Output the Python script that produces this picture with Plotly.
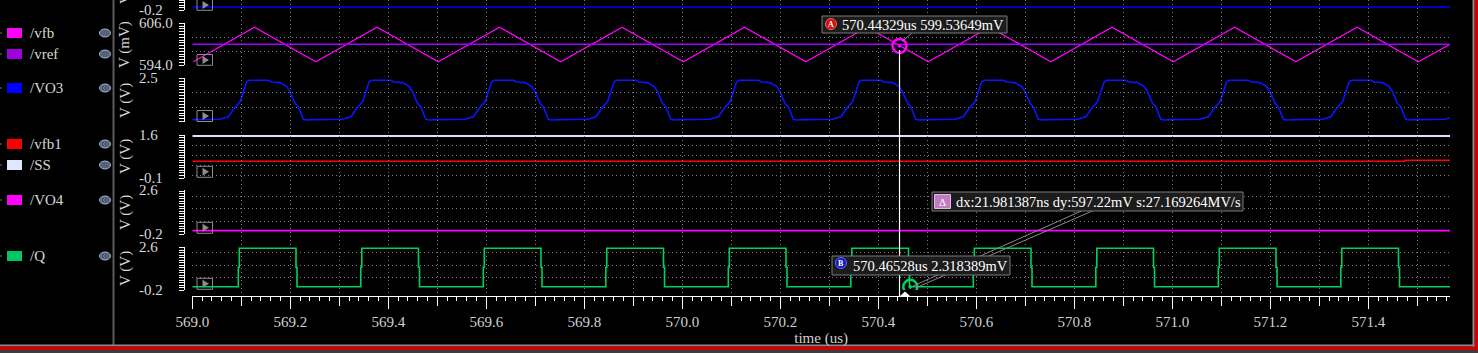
import plotly.graph_objects as go

W, H = 1478, 353
PH = 296  # plot-area height in px (bottom margin 57)
FONT = "Liberation Serif, DejaVu Serif, serif"

# ---------------- data ----------------
# time axis (us)
t_start, t_end = 569.0, 571.5667
x_tick_vals = [569.0, 569.2, 569.4, 569.6, 569.8, 570.0, 570.2, 570.4, 570.6, 570.8,
               571.0, 571.2, 571.4]
x_tick_text = ["569.0", "569.2", "569.4", "569.6", "569.8", "570.0", "570.2", "570.4",
               "570.6", "570.8", "571.0", "571.2", "571.4"]

# /vfb (mV) – triangle turning points, /vref (mV)
vfb_t = [569.002, 569.127, 569.252, 569.377, 569.502, 569.627, 569.752, 569.877, 570.002,
         570.127, 570.252, 570.377, 570.502, 570.627, 570.752, 570.877, 571.002, 571.127,
         571.252, 571.377, 571.502, 571.567]
vfb_mv = [595.0, 604.9, 595.0, 604.9, 595.0, 604.9, 595.0, 604.9, 595.0,
          604.9, 595.0, 604.9, 595.0, 604.9, 595.0, 604.9, 595.0, 604.9,
          595.0, 604.9, 595.0, 600.0]
vref_t = [569.0, 571.567]
vref_mv = [600.0, 600.0]

# switching cycles (start times, us)
cycle_start = [569.0, 569.25, 569.5, 569.75, 570.0, 570.25, 570.5, 570.75, 571.0, 571.25, 571.5]
# /VO3 one-cycle shape (offset us, volts)
vo3_dt = [0.0, 0.0565, 0.0735, 0.0871, 0.0973, 0.1041, 0.1110, 0.1163, 0.1551, 0.1620,
          0.1790, 0.1927, 0.1994, 0.2096, 0.2163, 0.2265, 0.2335]
vo3_v = [-0.07, -0.05, 0.11, 0.70, 1.04, 1.67, 2.29, 2.38, 2.38, 2.27,
         2.23, 1.98, 1.67, 0.95, 0.73, -0.05, -0.09]
# /Q one-cycle shape (offset us, volts)
q_dt = [0.0, 0.0939, 0.0939, 0.0959, 0.0959, 0.2116, 0.2116, 0.2137, 0.2137]
q_v = [0.01, 0.01, 1.27, 1.27, 2.50, 2.50, 1.27, 1.27, 0.01]

# /vfb1, /SS, /VO4 (V)
vfb1_t = [569.0, 571.475, 571.475, 571.567]
vfb1_v = [0.56, 0.56, 0.60, 0.60]
ss_t = [569.0, 571.567]
ss_v = [1.56, 1.56]
vo4_t = [569.0, 571.567]
vo4_v = [0.02, 0.02]
top_t = [569.0, 571.567]
top_v = [0.01, 0.01]

# markers
mA_t, mA_v = 570.44329, 599.53649   # mV on /vfb
mB_t, mB_v = 570.46528, 2.318389    # mV on /Q
delta_text = "dx:21.981387ns dy:597.22mV s:27.169264MV/s"

# ---------------- build periodic series from the read cycles ----------------
vo3_t, vo3_y, q_t, q_y = [], [], [], []
for c in cycle_start:
    vo3_t += [round(c + d, 5) for d in vo3_dt]
    vo3_y += vo3_v
    q_t += [round(c + d, 5) for d in q_dt]
    q_y += q_v


def X(px):
    return px / W


def Y(py):
    return 1 - py / PH


fig = go.Figure()
line = lambda c, w=1.5: dict(color=c, width=w)
common = dict(mode="lines", hoverinfo="skip", showlegend=False, xaxis="x")
# helper (empty) trace first so the full-height grid subplot exists underneath
fig.add_trace(go.Scatter(x=[], y=[], yaxis="y7", xaxis="x2", mode="lines", showlegend=False, hoverinfo="skip"))
fig.add_trace(go.Scatter(x=top_t, y=top_v, yaxis="y", line=line("#0000ff"), **common))
fig.add_trace(go.Scatter(x=vfb_t, y=vfb_mv, yaxis="y2", line=line("#ff00ff", 1.3), name="/vfb", **common))
fig.add_trace(go.Scatter(x=vref_t, y=vref_mv, yaxis="y2", line=line("#a000ff"), name="/vref", **common))
fig.add_trace(go.Scatter(x=vo3_t, y=vo3_y, yaxis="y3", line=line("#0a14ff", 1.6), name="/VO3", **common))
fig.add_trace(go.Scatter(x=vfb1_t, y=vfb1_v, yaxis="y4", line=line("#ff0000"), name="/vfb1", **common))
fig.add_trace(go.Scatter(x=ss_t, y=ss_v, yaxis="y4", line=line("#dde4ff", 1.8), name="/SS", **common))
fig.add_trace(go.Scatter(x=vo4_t, y=vo4_v, yaxis="y5", line=line("#ff00ff", 1.8), name="/VO4", **common))
fig.add_trace(go.Scatter(x=q_t, y=q_y, yaxis="y6", line=line("#00d060", 1.6), name="/Q", **common))
# markers A and B
fig.add_trace(go.Scatter(x=[mA_t], y=[mA_v], yaxis="y2", xaxis="x", mode="markers", showlegend=False,
                         hoverinfo="skip", marker=dict(symbol="circle-open-dot", size=14, color="#ff00ff",
                                                       line=dict(width=2.5, color="#ff00ff"))))
fig.add_trace(go.Scatter(x=[mB_t], y=[mB_v / 1000], yaxis="y6", xaxis="x", mode="markers", showlegend=False,
                         hoverinfo="skip", marker=dict(symbol="circle-open-dot", size=14, color="#00d060",
                                                       line=dict(width=2.5, color="#00d060"))))

GRID = "#7c7c7c"
DOT = "1px,3px"
xdom = [X(192.3), X(1450)]

# panels: axis id, top px, bottom px, range, grid values, ruler step
panels = [
    ("yaxis", 0.0, 10.3, [-0.2, 0.465], [-0.2], 0.16),
    ("yaxis2", 23.3, 65.3, [594.0, 606.0], [594.0, 598.0, 602.0, 606.0], 0.8),
    ("yaxis3", 78.3, 121.7, [-0.2, 2.5], [-0.2, 0.7, 1.6, 2.5], 0.18),
    ("yaxis4", 135.0, 178.0, [-0.1, 1.6], [0.0, 0.4, 0.8, 1.2], 0.1),
    ("yaxis5", 190.0, 234.0, [-0.2, 2.6], [-0.2, 0.6, 1.4, 2.2], 0.16),
    ("yaxis6", 246.7, 290.0, [-0.2, 2.6], [-0.2, 0.6, 1.4, 2.2], 0.16),
]
layout_axes = {}
for name, ptop, pbot, rng, grid, step in panels:
    layout_axes[name] = dict(
        domain=[Y(pbot), Y(ptop)], range=rng, anchor="free", position=X(184), side="left",
        showline=True, linecolor="#ffffff", linewidth=1, automargin=False,
        tickmode="array", tickvals=grid, ticks="outside", ticklen=5, tickcolor="#ffffff",
        showticklabels=False, showgrid=True, gridcolor=GRID, griddash=DOT, gridwidth=1,
        zeroline=False, fixedrange=True,
        minor=dict(tickmode="linear", tick0=rng[0], dtick=step, ticks="outside", ticklen=5,
                   tickcolor="#ffffff", showgrid=False),
    )
layout_axes["yaxis7"] = dict(domain=[0, 1], range=[0, 1], anchor="free", position=X(184),
                             visible=False, showgrid=False, zeroline=False, automargin=False)

fig.update_layout(
    width=W, height=H, autosize=False,
    margin=dict(l=0, r=0, t=0, b=57, pad=0, autoexpand=False),
    paper_bgcolor="#000000", plot_bgcolor="rgba(0,0,0,0)",
    hovermode=False, showlegend=False,
    font=dict(family=FONT, size=15, color="#d8d8d8"),
    xaxis=dict(
        domain=xdom, range=[t_start, t_end], anchor="free", position=0, automargin=False,
        tickmode="array", tickvals=x_tick_vals, ticktext=x_tick_text,
        ticks="outside", ticklen=12, tickcolor="#ffffff", tickwidth=1,
        showline=True, linecolor="#ffffff", linewidth=1,
        showgrid=False, zeroline=False,
        tickfont=dict(family=FONT, size=15, color="#d0d0d0"),
        title=dict(text="time (us)", font=dict(family=FONT, size=15, color="#d0d0d0"), standoff=3),
        minor=dict(tickmode="linear", tick0=569.0, dtick=0.02, ticks="outside", ticklen=4,
                   tickcolor="#ffffff", showgrid=False),
        fixedrange=True,
    ),
    xaxis2=dict(
        domain=xdom, range=[t_start, t_end], anchor="free", position=0, overlaying="x",
        automargin=False, tickmode="linear", tick0=569.0, dtick=0.1, ticks="outside", ticklen=9,
        tickcolor="#ffffff", showticklabels=False, showline=False, zeroline=False,
        showgrid=True, gridcolor=GRID, griddash=DOT, gridwidth=1, fixedrange=True,
    ),
    **layout_axes,
)

shapes = []
annotations = []


def rect(x0, y0, x1, y1, fill=None, lc=None, lw=1, layer="above"):
    shapes.append(dict(type="rect", xref="paper", yref="paper", x0=X(x0), x1=X(x1), y0=Y(y1), y1=Y(y0),
                       fillcolor=fill if fill else "rgba(0,0,0,0)",
                       line=dict(color=lc if lc else "rgba(0,0,0,0)", width=lw if lc else 0), layer=layer))


def seg(x0, y0, x1, y1, c, w=1):
    shapes.append(dict(type="line", xref="paper", yref="paper", x0=X(x0), x1=X(x1), y0=Y(y0), y1=Y(y1),
                       line=dict(color=c, width=w), layer="above"))


def txt(x, y, s, size=15, color="#d8d8d8", xanchor="left", angle=0, yref="paper", bold=False):
    annotations.append(dict(x=X(x), y=(Y(y) if yref == "paper" else y), xref="paper", yref=yref,
                            text=("<b>%s</b>" % s if bold else s), showarrow=False, xanchor=xanchor,
                            yanchor="middle", textangle=angle,
                            font=dict(family=FONT, size=size, color=color)))


# ---- left legend ----
legend_rows = [("/vfb", "#ff00ff", 33), ("/vref", "#a000e0", 54), ("/VO3", "#0000ff", 88),
               ("/vfb1", "#ff0000", 144), ("/SS", "#dfe6ff", 165), ("/VO4", "#ff00ff", 200),
               ("/Q", "#00c864", 256)]
for label, col, cy in legend_rows:
    rect(7, cy - 5, 22, cy + 5, fill=col)
    txt(28, cy, label, size=15)
    shapes.append(dict(type="circle", xref="paper", yref="paper", x0=X(99.5), x1=X(110.5), y0=Y(cy + 4),
                       y1=Y(cy - 4), fillcolor="#55627c", line=dict(color="#a8b4cc", width=1)))
    rect(0, cy - 0.5, 2, cy + 0.5, fill="#777777")

# separator & frame
seg(113.5, -2, 113.5, 345, "#5a5a5a", 2)
rect(0, 344.5, 1478, 346.5, fill="#8a8a8a")
rect(0, 346.5, 1478, 350, fill="#d00000")
rect(0, 350, 1478, 354, fill="#3c3c3c")
rect(1472.5, -2, 1474.7, 346.5, fill="#8a8a8a")
rect(1474.7, -2, 1479, 350, fill="#d00000")

# ---- y-axis end labels and titles ----
for name, ptop, pbot, rng, grid, step in panels:
    yref = "y" if name == "yaxis" else "y" + name[5:]
    if name == "yaxis2":
        top_lbl, bot_lbl = "606.0", "594.0"
    elif name == "yaxis3":
        top_lbl, bot_lbl = "2.5", ""
    elif name == "yaxis":
        top_lbl, bot_lbl = "", "-0.2"
    else:
        top_lbl, bot_lbl = "%.1f" % rng[1], "%.1f" % rng[0]
    if top_lbl:
        txt(137, rng[1], top_lbl, yref=yref)
    if bot_lbl:
        txt(137, rng[0], bot_lbl, yref=yref)

txt(125, -13, "V (V)", angle=-90, xanchor="center")
txt(125, 45, "V (mV)", angle=-90, xanchor="center")
txt(125, 101, "V (V)", angle=-90, xanchor="center")
txt(125, 157, "V (V)", angle=-90, xanchor="center")
txt(125, 213, "V (V)", angle=-90, xanchor="center")
txt(125, 269, "V (V)", angle=-90, xanchor="center")

# play buttons
for ptop, pbot in [(-0.5, 10.3), (54.5, 65.3), (110.5, 121.5), (166.3, 177.3), (222.3, 233.3), (278.3, 289.3)]:
    rect(197, ptop, 212.5, pbot, lc="#8c8c8c", lw=1)
    cy = (ptop + pbot) / 2
    shapes.append(dict(type="path", xref="paper", yref="paper",
                       path="M %f,%f L %f,%f L %f,%f Z" % (X(202.5), Y(cy - 4), X(202.5), Y(cy + 4), X(209), Y(cy)),
                       fillcolor="#8c8c8c", line=dict(width=0)))

# cursor line at marker A
shapes.append(dict(type="line", xref="x", yref="paper", x0=mA_t, x1=mA_t, y0=Y(296), y1=Y(50),
                   line=dict(color="#ffffff", width=1.2), layer="above"))
shapes.append(dict(type="path", xref="paper", yref="paper",
                   path="M %f,%f L %f,%f L %f,%f Z" % (X(900), Y(296), X(910), Y(296), X(905), Y(291.5)),
                   fillcolor="#ffffff", line=dict(width=0)))

# leader lines
seg(911.7, 33.3, 902, 41.5, "#8a8a8a", 1)
seg(913, 286, 1082, 210.7, "#8a8a8a", 1)
seg(916.5, 287.5, 1093, 210.7, "#8a8a8a", 1)

# marker label boxes
rect(822, 16, 1007, 33, fill="#1c1c1c", lc="#7a7a7a")
shapes.append(dict(type="circle", xref="paper", yref="paper", x0=X(825.5), x1=X(836.5), y0=Y(29.5), y1=Y(18.5),
                   fillcolor="#c81010", line=dict(color="#ff6060", width=1)))
txt(831, 24, "A", size=8, color="#ffffff", xanchor="center", bold=True)
txt(840, 24.5, "%.5fus %.5fmV" % (mA_t, mA_v), size=14.5, color="#ffffff")

rect(932, 192, 1243, 211, fill="#1c1c1c", lc="#7a7a7a")
rect(934.5, 194.5, 950.5, 208.5, fill="#c07cc0", lc="#e8b8e8")
txt(942.5, 201.5, "Δ", size=11, color="#ffffff", xanchor="center")
txt(954, 201.5, delta_text, size=14.5, color="#ffffff")

rect(832, 256, 1010, 275, fill="#1c1c1c", lc="#7a7a7a")
shapes.append(dict(type="circle", xref="paper", yref="paper", x0=X(835.5), x1=X(846.5), y0=Y(268.5), y1=Y(257.5),
                   fillcolor="#1414c8", line=dict(color="#6070ff", width=1)))
txt(841, 263, "B", size=8, color="#ffffff", xanchor="center", bold=True)
txt(851, 265.5, "%.5fus %.6fmV" % (mB_t, mB_v), size=14.5, color="#ffffff")

fig.update_layout(shapes=shapes, annotations=annotations)
fig.write_html("out.html", config={"displayModeBar": False, "staticPlot": True})
